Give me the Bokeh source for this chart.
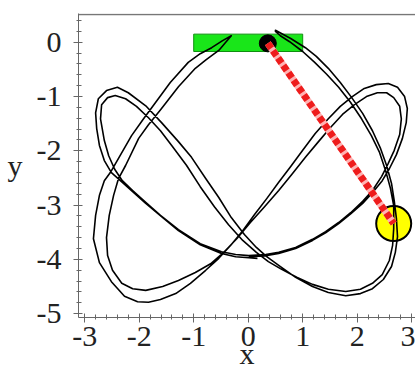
from bokeh.plotting import figure
from bokeh.models import Range1d, Span, SingleIntervalTicker, CustomJSTickFormatter
from bokeh.embed import file_html
from bokeh.resources import INLINE

# Bob trajectory, traced in three sweeps (x, y in metres).
sweep_a_x = [0.01, 0.32, 0.56, 0.87, 1.18, 1.42, 1.66, 1.88, 2.10, 2.28, 2.46, 2.59,
             2.72, 2.83, 2.90, 2.92, 2.87, 2.74, 2.57, 2.35, 2.13, 1.91,
             1.69, 1.47, 1.23, 1.00, 0.78, 0.56, 0.34, 0.12, -0.10, -0.32, -0.54, -0.78,
             -1.06, -1.33, -1.61, -1.83, -2.03,
             -2.27, -2.51, -2.73, -2.84, -2.80, -2.73, -2.64, -2.53,
             -2.38, -2.14, -1.92, -1.70, -1.43, -1.10, -0.88, -0.67, -0.47, -0.31]
sweep_a_y = [-3.95, -3.93, -3.89, -3.80, -3.65, -3.51, -3.34, -3.16, -2.97, -2.77, -2.55, -2.33,
             -2.07, -1.77, -1.48, -1.22, -1.00, -0.83, -0.76, -0.78, -0.85, -1.00,
             -1.18, -1.41, -1.68, -1.99, -2.29, -2.58, -2.88, -3.17, -3.47, -3.74, -3.98, -4.20,
             -4.44, -4.63, -4.74, -4.79, -4.78,
             -4.68, -4.41, -4.06, -3.62, -3.19, -2.82, -2.55, -2.40,
             -2.14, -1.72, -1.41, -1.11, -0.74, -0.37, -0.21, -0.10, 0.03, 0.12]

sweep_b_x = [-0.42, -0.54, -0.77, -0.97, -1.28, -1.59, -1.83, -2.01, -2.25, -2.38,
             -2.47, -2.55, -2.60, -2.58, -2.49, -2.32, -2.12, -1.88,
             -1.57, -1.28, -0.97, -0.69, -0.47, -0.21, 0.04, 0.30, 0.56, 0.81, 1.05, 1.29,
             1.51, 1.73, 1.95, 2.17, 2.37,
             2.54, 2.67, 2.78, 2.81, 2.78, 2.68, 2.57, 2.45,
             2.28, 2.10, 1.88, 1.66, 1.42, 1.18, 0.87, 0.56, 0.32, 0.01, -0.23, -0.49,
             -0.88, -1.28, -1.61, -1.88, -2.12, -2.31, -2.45,
             -2.56, -2.64, -2.71, -2.69, -2.58, -2.44, -2.25, -2.05,
             -1.83, -1.61, -1.39, -1.13, -0.88, -0.62, -0.36, -0.10, 0.15, 0.37,
             0.59, 0.89, 1.18, 1.47, 1.79, 2.06, 2.28, 2.46, 2.59, 2.65, 2.67,
             2.67, 2.61, 2.52, 2.41, 2.26, 2.08, 1.88, 1.66, 1.44, 1.22, 1.00, 0.76, 0.59, 0.50]
sweep_b_y = [-0.01, -0.15, -0.32, -0.48, -0.82, -1.22, -1.52, -1.77, -2.27, -2.51,
             -2.82, -3.19, -3.60, -3.93, -4.20, -4.44, -4.54, -4.57,
             -4.50, -4.39, -4.24, -4.08, -3.89, -3.62, -3.32, -3.03, -2.73, -2.42, -2.12, -1.83,
             -1.57, -1.33, -1.15, -1.00, -0.93,
             -0.93, -1.02, -1.18, -1.41, -1.70, -1.99, -2.23, -2.47,
             -2.73, -2.93, -3.14, -3.32, -3.49, -3.63, -3.78, -3.87, -3.91, -3.93, -3.91, -3.86,
             -3.71, -3.45, -3.19, -2.95, -2.73, -2.55, -2.34,
             -2.09, -1.81, -1.41, -1.15, -1.02, -0.98, -1.04, -1.18,
             -1.39, -1.63, -1.92, -2.27, -2.66, -3.03, -3.36, -3.65, -3.87, -4.04,
             -4.17, -4.33, -4.46, -4.55, -4.59, -4.55, -4.44, -4.28, -4.02, -3.74, -3.43,
             -3.01, -2.69, -2.36, -2.03, -1.72, -1.41, -1.11, -0.83, -0.59, -0.37, -0.17, 0.01, 0.12, 0.20]

sweep_c_x = [0.50, 0.78, 1.05, 1.25, 1.47, 1.69, 1.90, 2.10, 2.28, 2.43, 2.54, 2.63, 2.68, 2.72,
             2.74, 2.70, 2.63, 2.48, 2.28, 2.06, 1.79, 1.47, 1.18, 0.87, 0.56, 0.34, 0.15,
             -0.07, -0.31, -0.54, -0.78, -1.04, -1.28, -1.59, -1.88, -2.20,
             -2.40, -2.60, -2.75, -2.80, -2.78, -2.73, -2.64, -2.51, -2.32,
             -2.10, -1.88, -1.59, -1.28, -0.88, -0.49, -0.23, 0.01, 0.17]
sweep_c_y = [0.22, 0.07, -0.10, -0.26, -0.48, -0.74, -1.02, -1.31, -1.63, -1.96, -2.27, -2.60, -2.92, -3.25,
             -3.58, -3.87, -4.13, -4.37, -4.54, -4.63, -4.67, -4.61, -4.50, -4.33, -4.11, -3.95, -3.78,
             -3.54, -3.23, -2.86, -2.51, -2.12, -1.83, -1.48, -1.17, -0.93,
             -0.83, -0.89, -1.04, -1.30, -1.59, -1.90, -2.18, -2.40, -2.57,
             -2.77, -2.97, -3.21, -3.47, -3.73, -3.89, -3.95, -3.97, -3.98]

# Slider track, pivot and bob at the final instant.
track_x = [-1.0, 1.0]
track_y = [-0.17, 0.15]
pivot = (0.36, -0.02)
bob = (2.67, -3.34)

p = figure(width=415, height=385, output_backend="svg", toolbar_location=None,
           x_range=Range1d(-3.114, 3.07), y_range=Range1d(-5.07, 0.53),
           min_border_left=78, min_border_right=0, min_border_top=13, min_border_bottom=68)
p.grid.visible = False
p.outline_line_color = None
p.background_fill_color = "white"
p.border_fill_color = "white"

plain = CustomJSTickFormatter(code="return String(tick);")
p.xaxis.ticker = SingleIntervalTicker(interval=1, num_minor_ticks=5)
p.yaxis.ticker = SingleIntervalTicker(interval=1, num_minor_ticks=5)
p.xaxis.axis_label = "x"
p.yaxis.axis_label = "y"
for ax in (p.xaxis[0], p.yaxis[0]):
    ax.formatter = plain
    ax.axis_line_color = "#666666"
    ax.major_tick_line_color = "#666666"
    ax.minor_tick_line_color = "#666666"
    ax.major_tick_in = 4
    ax.major_tick_out = 5
    ax.minor_tick_in = 3
    ax.minor_tick_out = 2
    ax.major_label_text_font = "Liberation Serif"
    ax.major_label_text_font_size = "30px"
    ax.major_label_text_color = "#222222"
    ax.axis_label_text_font = "Liberation Serif"
    ax.axis_label_text_font_size = "30px"
    ax.axis_label_text_font_style = "normal"
    ax.axis_label_text_color = "#222222"
p.xaxis.major_label_standoff = 4
p.xaxis.axis_label_standoff = -12
p.yaxis.major_label_standoff = 12
p.yaxis.axis_label_standoff = 11
p.yaxis.axis_label_orientation = "horizontal"

p.add_layout(Span(location=0.51, dimension="width", line_color="#777777", line_width=1.5))

p.quad(left=[track_x[0]], right=[track_x[1]], bottom=[track_y[0]], top=[track_y[1]],
       fill_color="#19e619", line_color="#0f8f0f", line_width=1)

p.scatter([bob[0]], [bob[1]], size=35, fill_color="#ffff00", line_color="black", line_width=2)

path_x = sweep_a_x + sweep_b_x + sweep_c_x
path_y = sweep_a_y + sweep_b_y + sweep_c_y
p.line(path_x, path_y, line_color="black", line_width=1.6, line_join="round")

p.scatter([pivot[0]], [pivot[1]], size=17, fill_color="black", line_color="black")

# Spring between pivot and bob
p.line([pivot[0], bob[0]], [pivot[1], bob[1]], line_color="#ffb3b3", line_width=7)
p.line([pivot[0], bob[0]], [pivot[1], bob[1]], line_color="#ee1c1c", line_width=7, line_dash="6 3")

open("out.html", "w").write(file_html(p, INLINE))
